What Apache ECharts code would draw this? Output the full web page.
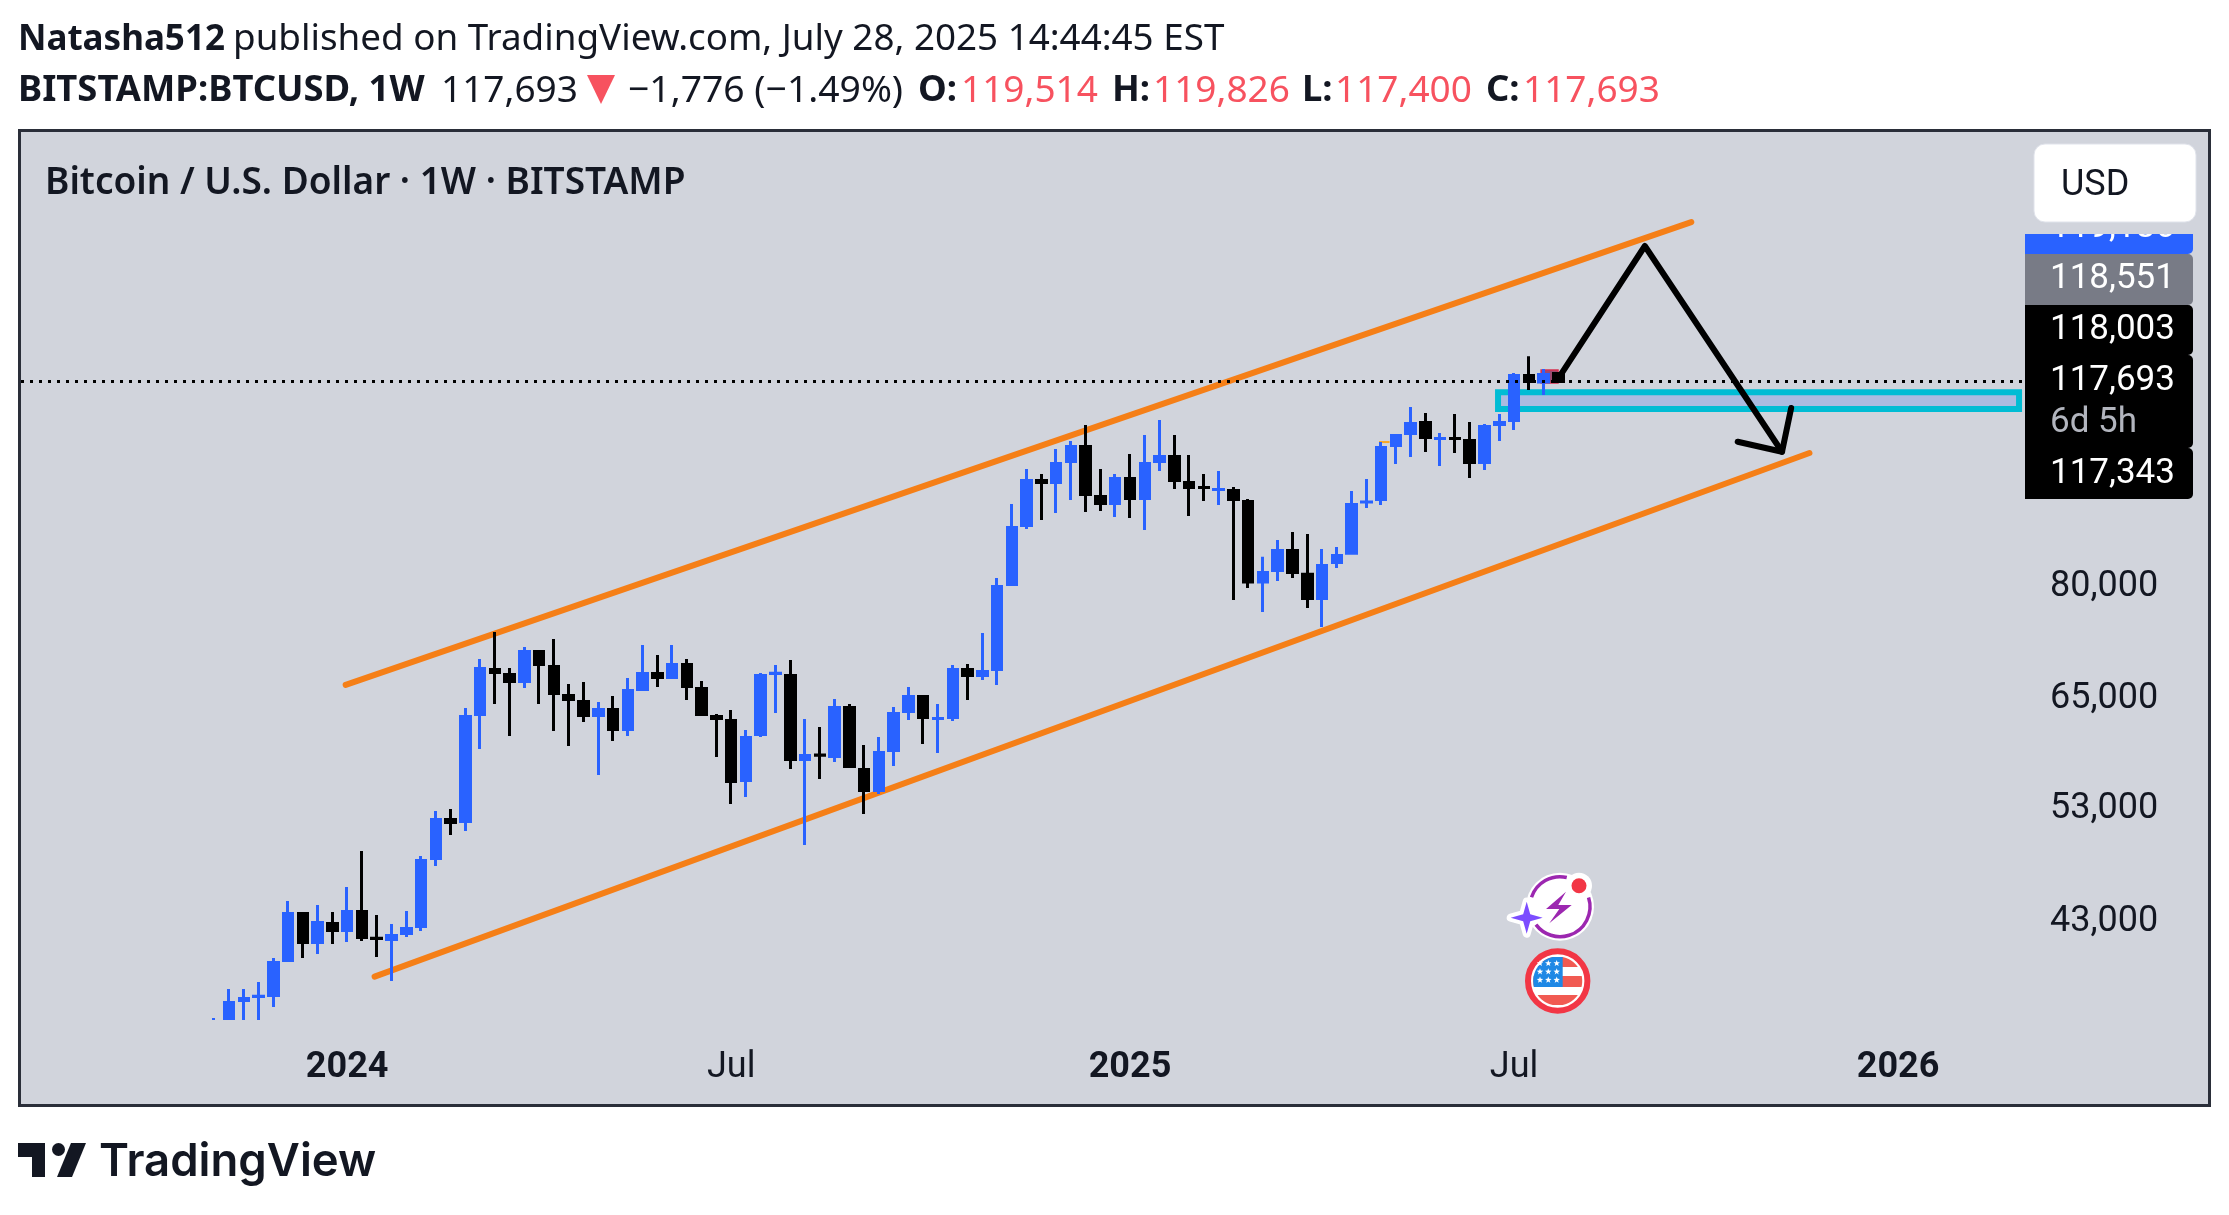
<!DOCTYPE html>
<html>
<head>
<meta charset="utf-8">
<title>BTCUSD 1W</title>
<style>
  html, body { margin: 0; padding: 0; background: #fff; }
  #main { width: 2229px; height: 1215px; }
</style>
</head>
<body>
<div id="main"></div>
<script src="https://cdn.jsdelivr.net/npm/echarts@6/dist/echarts.min.js"></script>
<script type="text/javascript">
  var firstWeek = [2023, 9, 30];
  var weekOpen = [
    34500,35000,36935,37200,37275,39775,43390,41125,42595,42045,
    43550,41440,41350,41815,42355,48045,51640,51450,62720,68165,
    67540,66665,70475,68545,64965,64240,62600,63300,61000,65685,
    67665,67165,68800,65810,62485,62025,55500,60440,67660,67415,
    57700,58190,58030,63535,56640,54485,58675,63065,64840,62245,
    62370,68165,67415,68165,79780,88995,96725,96375,100190,103010,
    93900,92690,97080,93555,100190,101120,96375,95490,95115,94950,
    93040,80150,81880,84970,81320,77735,83100,84550,92945,93380,
    103200,105510,107690,104530,104550,104160,100005,107290,108090,117490,
    116070,117930
  ];
  var weekHigh = [
    35760,37730,37730,38220,39960,44405,43390,44080,43510,45570,
    48710,43270,42555,43590,48265,52460,52650,63475,69500,73060,
    68350,71060,70475,72125,66360,66605,64185,64900,67100,71330,
    70020,71330,69500,66725,62770,63240,60940,67730,68735,69370,
    62195,61280,64540,63950,59275,60160,63590,65990,64840,63950,
    68735,68860,72930,80745,92605,98805,97900,102535,104065,107195,
    98805,97900,101590,105230,108190,105230,101405,97900,98440,95570,
    93470,83980,86636,87930,87600,85200,85520,94860,96990,103870,
    105130,110815,109600,105620,109400,107790,107390,109400,118020,121780,
    118900,118100
  ];
  var weekLow = [
    34200,34700,34950,34950,36495,39775,39960,40255,41010,41165,
    41240,40035,38295,41545,42005,47380,50180,50550,58840,63950,
    60275,65870,63950,60830,59165,61850,56070,59715,60275,65685,
    65990,67165,64420,62720,57975,53140,53830,60160,62890,56695,
    49255,55660,57440,56960,52170,54135,57010,62080,59385,58405,
    61965,64420,66850,66235,79780,88420,89904,91080,93296,91250,
    91415,90405,90240,88255,98440,95215,90575,93125,92440,77520,
    79260,75820,80300,80745,76385,73740,82260,84550,91925,92440,
    99730,101030,101970,99360,101780,97175,98624,104065,106205,114371,
    113320,116100
  ];
  var weekClose = [
    35000,36800,37065,37220,39630,43390,41125,42670,42045,43550,
    41505,41420,41660,42200,47865,51640,51355,62485,68290,67790,
    66665,70475,68800,65205,64480,62600,63300,61000,65565,67665,
    67165,68800,66050,62720,62255,55400,60100,67415,67680,57700,
    58130,58170,63535,56960,54485,58455,62835,64840,62370,62265,
    68165,67415,67915,79490,88665,96725,96375,99820,103010,94255,
    92690,97080,93555,99820,101120,96725,95480,95470,95135,93380,
    80150,81580,84970,81580,77735,82645,84190,92530,92965,102820,
    105130,107490,104740,104550,104530,100005,106900,107690,117490,116180,
    117710,116200
  ];

  var priceTicks = [43000, 53000, 65000, 80000];
  var timeTicks = ['2024-01-01', '2024-07-01', '2025-01-06', '2025-07-07', '2026-01-05'];
  var timeLabels = ['2024', 'Jul', '2025', 'Jul', '2026'];
  var timeMin = '2023-07-30T10:00Z';
  var timeMax = '2026-03-05T05:00Z';
  var priceMin = 35622;
  var priceMax = 184080;

  // drawings on the chart, [date, price]
  var channelTop = [['2023-12-31T07:00Z', 66250], ['2025-09-29', 156100]];
  var channelBottom = [['2024-01-14', 38600], ['2025-11-24', 101775]];
  var pathZigzag = [['2025-07-29', 117590], ['2025-09-07', 149330], ['2025-11-11', 102015]];
  var pathArrowHead = [['2025-10-21', 103930], ['2025-11-11', 102015], ['2025-11-15T08:00Z', 110615]];
  var oldDash = [['2025-05-04', 103870], ['2025-05-09', 103870]];
  var zoneBox = [['2025-06-29T10:00Z', 113910], ['2026-03-03T08:00Z', 110440]];
  var redBox = [['2025-07-19T20:00Z', 118686], ['2025-07-27T20:00Z', 115860]];
  var lastLine = 116200;

  var headerBold = 'Natasha512';
  var headerRest = 'published on TradingView.com, July 28, 2025 14:44:45 EST';
  var paneTitle = 'Bitcoin / U.S. Dollar · 1W · BITSTAMP';
  var tagLabels = ['119,186', '118,551', '118,003', '117,693', '6d 5h', '117,343'];

  function toTime(d) { return new Date(d).getTime(); }
  function toPoints(list) {
    return list.map(function (p) { return [toTime(p[0]), p[1]]; });
  }

  var candles = weekOpen.map(function (o, i) {
    return [Date.UTC(firstWeek[0], firstWeek[1], firstWeek[2] + 7 * i), o, weekClose[i], weekLow[i], weekHigh[i]];
  });
  var timeTickValues = timeTicks.map(toTime);

  var INK = '#131722';
  var RED = '#F7525F';
  var PANE = '#D1D4DC';

  function label(x, y, text, size, weight, color, family) {
    return {
      type: 'text', x: x, y: y, z: 30,
      style: { text: text, fill: color || INK, font: (weight || 400) + ' ' + size + 'px "' + (family || 'Noto Sans') + '"', verticalAlign: 'middle' }
    };
  }
  function tagText(y, text, z, color) {
    return { type: 'text', x: 2050, y: y, z: z, style: { text: text, fill: color || '#fff', font: '400 35px Roboto', verticalAlign: 'middle' } };
  }
  function tagBox(y, h, fill) {
    return { type: 'rect', z: 20, shape: { x: 2025, y: y, width: 168, height: h, r: [0, 5, 5, 0] }, style: { fill: fill } };
  }

  // piece of a disc cut by a box, for the flag icon
  function discPart(cx, cy, r, x1, x2, y1, y2, fill) {
    var left = [], right = [];
    for (var y = y1; y <= y2; y += 1) {
      var dx = Math.sqrt(Math.max(0, r * r - (y - cy) * (y - cy)));
      left.push([Math.max(x1, cx - dx), y]);
      right.unshift([Math.min(x2, cx + dx), y]);
    }
    return { type: 'polygon', z: 33, shape: { points: left.concat(right) }, style: { fill: fill } };
  }

  function starShape(cx, cy, outer, inner, n, fill, halo) {
    var pts = [];
    for (var k = 0; k < n * 2; k++) {
      var r = k % 2 ? inner : outer;
      var a = -Math.PI / 2 + k * Math.PI / n;
      pts.push([cx + r * Math.cos(a), cy + r * Math.sin(a)]);
    }
    return {
      type: 'polygon', z: 34, shape: { points: pts },
      style: { fill: fill, stroke: halo || null, lineWidth: halo ? 8 : 0, lineJoin: 'round' }
    };
  }

  var graphics = [
    // pane
    { type: 'rect', z: -10, shape: { x: 19.5, y: 130.5, width: 2190, height: 975 }, style: { fill: PANE, stroke: '#2A2E39', lineWidth: 3 } },
    // the chart cuts the first candles off at its lower edge
    { type: 'rect', z: 5, shape: { x: 200, y: 1020, width: 90, height: 30 }, style: { fill: PANE } },

    // header
    label(18, 40, headerBold, 35, 700),
    label(233, 40, headerRest, 36.8, 400),
    label(18, 91, 'BITSTAMP:BTCUSD, 1W', 36.4, 700),
    label(441, 91, '117,693', 37, 400),
    { type: 'polygon', z: 30, shape: { points: [[587, 75], [615, 75], [601, 104]] }, style: { fill: RED } },
    label(628, 91, '−1,776 (−1.49%)', 37.3, 400),
    label(918, 91, 'O:', 36.4, 700),
    label(961, 91, '119,514', 37, 400, RED),
    label(1112, 91, 'H:', 36.4, 700),
    label(1153, 91, '119,826', 37, 400, RED),
    label(1302, 91, 'L:', 36.4, 700),
    label(1335, 91, '117,400', 37, 400, RED),
    label(1486, 91, 'C:', 36.4, 700),
    label(1523, 91, '117,693', 37, 400, RED),
    label(45, 183, paneTitle, 37, 600),

    // price tags
    { type: 'rect', z: 20, shape: { x: 2025, y: 203, width: 168, height: 51, r: [0, 0, 5, 0] }, style: { fill: '#2962FF' } },
    tagText(228, tagLabels[0], 21),
    { type: 'rect', z: 22, shape: { x: 2025, y: 190, width: 175, height: 44 }, style: { fill: PANE } },
    tagBox(254, 51, '#787B86'),
    tagBox(305, 50, '#000'),
    tagBox(355, 93, '#000'),
    tagBox(448, 51, '#000'),
    tagText(279, tagLabels[1], 23),
    tagText(330, tagLabels[2], 23),
    tagText(381, tagLabels[3], 23),
    tagText(423, tagLabels[4], 23, '#B2B5BE'),
    tagText(474, tagLabels[5], 23),

    // currency button
    { type: 'rect', z: 24, shape: { x: 2034, y: 144, width: 162, height: 78, r: 11 }, style: { fill: '#fff', stroke: '#E0E3EB', lineWidth: 1 } },
    { type: 'text', x: 2061, y: 186, z: 25, style: { text: 'USD', fill: INK, font: '400 36px Roboto', verticalAlign: 'middle' } },

    // logo
    { type: 'polygon', z: 30, shape: { points: [[18, 1143], [45, 1143], [45, 1177], [32, 1177], [32, 1157], [18, 1157]] }, style: { fill: INK } },
    { type: 'circle', z: 30, shape: { cx: 58.5, cy: 1149.5, r: 6.5 }, style: { fill: INK } },
    { type: 'polygon', z: 30, shape: { points: [[71, 1143], [86, 1143], [72, 1177], [57, 1177]] }, style: { fill: INK } },
    label(99, 1162, 'TradingView', 45.5, 600, INK, 'Inter'),

    // earnings icon
    { type: 'circle', z: 31, shape: { cx: 1560, cy: 906.7, r: 34 }, style: { fill: '#fff' } },
    { type: 'arc', z: 32, shape: { cx: 1560, cy: 906.7, r: 30, startAngle: -0.31, endAngle: 2.5 }, style: { stroke: '#9C27B0', lineWidth: 3.5, fill: null } },
    { type: 'arc', z: 32, shape: { cx: 1560, cy: 906.7, r: 30, startAngle: 3.46, endAngle: 4.94 }, style: { stroke: '#9C27B0', lineWidth: 3.5, fill: null } },
    { type: 'polygon', z: 33, shape: { points: [[1566, 891.7], [1546, 909], [1559.3, 909], [1549.3, 923.3], [1571.7, 905], [1558.3, 905]] }, style: { fill: '#9C27B0' } },
    { type: 'circle', z: 33, shape: { cx: 1579, cy: 885.7, r: 13 }, style: { fill: '#fff' } },
    { type: 'circle', z: 33, shape: { cx: 1579, cy: 885.7, r: 7.5 }, style: { fill: '#F23645' } },
    starShape(1526.7, 917.7, 16, 5, 4, '#7C4DFF', '#fff'),
    starShape(1526.7, 917.7, 16, 5, 4, '#7C4DFF'),

    // flag icon
    { type: 'circle', z: 31, shape: { cx: 1557.7, cy: 981, r: 29.7 }, style: { fill: '#fff', stroke: '#F23645', lineWidth: 6 } },
    discPart(1557.7, 981, 24.5, 1500, 1620, 957, 967, '#F15A52'),
    discPart(1557.7, 981, 24.5, 1500, 1620, 976, 987, '#F15A52'),
    discPart(1557.7, 981, 24.5, 1500, 1620, 995, 1005, '#F15A52'),
    discPart(1557.7, 981, 24.5, 1500, 1562.7, 957, 987, '#1E88E5')
  ];
  [963.3, 971.7, 980].forEach(function (y) {
    [1540, 1548.3, 1556.7].forEach(function (x) {
      graphics.push(starShape(x, y, 3.4, 1.4, 5, '#fff'));
    });
  });

  var myChart = echarts.init(document.getElementById('main'));

  var option = {
    animation: false,
    backgroundColor: '#fff',
    grid: { left: 21, right: 206, top: 133, bottom: 195 },
    xAxis: {
      type: 'value',
      scale: true,
      min: toTime(timeMin),
      max: toTime(timeMax),
      splitLine: { show: false },
      axisLine: { show: false },
      axisTick: { show: false },
      axisLabel: {
        customValues: timeTickValues,
        margin: 30,
        hideOverlap: false,
        color: INK,
        fontFamily: 'Roboto',
        fontSize: 36,
        formatter: function (value) {
          var text = timeLabels[timeTickValues.indexOf(value)];
          return text === 'Jul' ? text : '{b|' + text + '}';
        },
        rich: { b: { fontWeight: 700, fontFamily: 'Roboto', fontSize: 36, color: INK } }
      }
    },
    yAxis: {
      type: 'log',
      position: 'right',
      min: priceMin,
      max: priceMax,
      splitLine: { show: false },
      minorSplitLine: { show: false },
      axisLine: { show: false },
      axisTick: { show: false },
      axisLabel: {
        customValues: priceTicks,
        margin: 27,
        formatter: function (v) { return '{p|' + Math.round(v).toLocaleString('en-US') + '}'; },
        rich: { p: { color: INK, fontFamily: 'Roboto', fontSize: 36, padding: [8, 0, 0, 0] } }
      }
    },
    series: [
      {
        type: 'candlestick',
        data: candles,
        barWidth: 10,
        z: 3,
        itemStyle: { color: '#2962FF', color0: '#000', borderColor: '#2962FF', borderColor0: '#000', borderWidth: 3 },
        markLine: {
          silent: true,
          symbol: 'none',
          label: { show: false },
          z: 6,
          lineStyle: { color: '#000', width: 3, type: [3, 6] },
          data: [{ yAxis: lastLine }]
        },
        markArea: {
          silent: true,
          z: 1,
          data: [
            [
              { coord: toPoints(zoneBox)[0], itemStyle: { color: '#AABBE0', borderColor: '#00BCD4', borderWidth: 6, opacity: 1 } },
              { coord: toPoints(zoneBox)[1] }
            ],
            [
              { coord: toPoints(redBox)[0], itemStyle: { color: '#9A4A70', borderColor: '#D6304F', borderWidth: 1.5, opacity: 1 } },
              { coord: toPoints(redBox)[1] }
            ]
          ]
        }
      },
      { type: 'line', data: toPoints(channelTop), symbol: 'none', z: 2, silent: true, lineStyle: { color: '#F57F17', width: 6, cap: 'round' } },
      { type: 'line', data: toPoints(channelBottom), symbol: 'none', z: 2, silent: true, lineStyle: { color: '#F57F17', width: 6, cap: 'round' } },
      { type: 'line', data: toPoints(oldDash), symbol: 'none', z: 2, silent: true, lineStyle: { color: '#F9A825', width: 2 } },
      { type: 'line', data: toPoints(pathZigzag), symbol: 'none', z: 7, silent: true, lineStyle: { color: '#000', width: 6, cap: 'round', join: 'round' } },
      { type: 'line', data: toPoints(pathArrowHead), symbol: 'none', z: 7, silent: true, lineStyle: { color: '#000', width: 6, cap: 'round', join: 'round' } }
    ],
    graphic: { elements: graphics }
  };

  myChart.setOption(option);
</script>
</body>
</html>
